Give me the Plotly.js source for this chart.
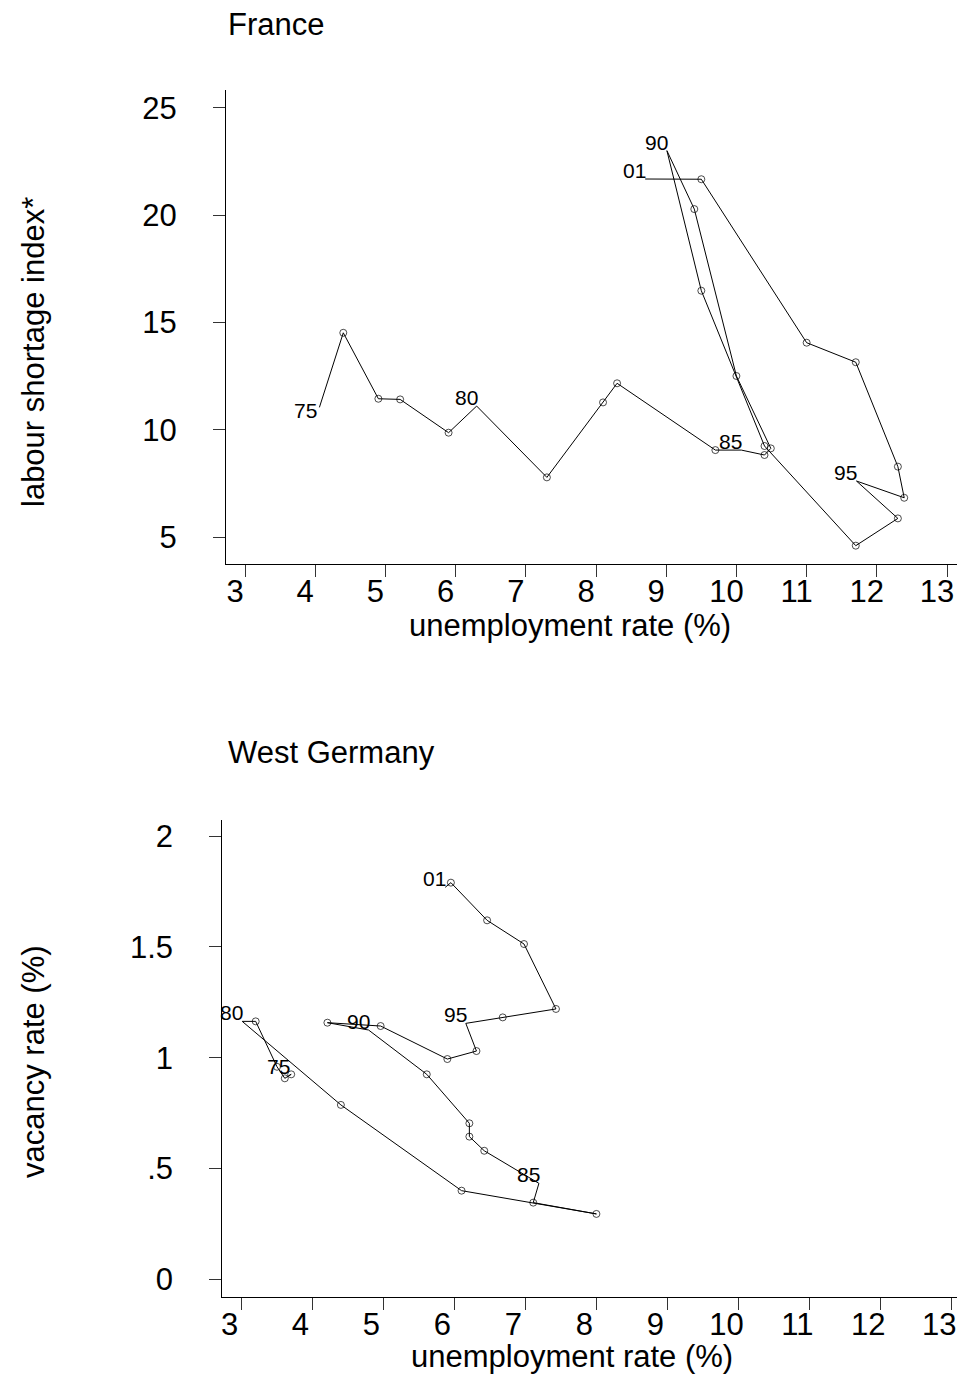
<!DOCTYPE html>
<html><head><meta charset="utf-8">
<script src="https://cdn.plot.ly/plotly-3.0.1.min.js"></script>
<style>html,body{margin:0;padding:0;background:#fff}#chart{width:957px;height:1376px}</style>
</head><body><div id="chart"></div>
<script>
// ---- France data ----
const franceYears = ["75","76","77","78","79","80","81","82","83","84","85","86","87","88","89","90","91","92","93","94","95","96","97","98","99","00","01"];
const franceUnemp = [4.06,4.40,4.90,5.21,5.90,6.30,7.30,8.10,8.30,9.70,10.07,10.40,10.49,10.00,9.40,9.01,9.50,10.40,11.70,12.30,11.71,12.39,12.30,11.70,11.00,9.50,8.70];
const franceShort = [11.05,14.52,11.45,11.42,9.87,11.11,7.79,11.28,12.17,9.06,9.06,8.83,9.14,12.51,20.28,23.00,16.48,9.25,4.61,5.88,7.62,6.84,8.29,13.15,14.06,21.67,21.68];
// ---- West Germany data ----
const germanyYears = ["75","76","77","78","79","80","81","82","83","84","85","86","87","88","89","90","91","92","93","94","95","96","97","98","99","00","01"];
const germanyUnemp = [3.67,3.70,3.61,3.50,3.20,3.01,4.40,6.10,8.00,7.11,7.19,6.42,6.21,6.21,5.61,4.79,4.21,4.96,5.90,6.31,6.16,6.68,7.43,6.98,6.46,5.95,5.87];
const germanyVac = [0.92,0.925,0.907,0.959,1.164,1.164,0.787,0.400,0.295,0.346,0.433,0.580,0.644,0.704,0.925,1.125,1.158,1.143,0.994,1.030,1.155,1.182,1.220,1.513,1.620,1.790,1.769];
const labelled = ["75","80","85","90","95","01"];
const franceTickVals = [5,10,15,20,25];
const germanyTickVals = [0,0.5,1,1.5,2];
const germanyTickText = ["0",".5","1","1.5","2"];
const xTickVals = [3,4,5,6,7,8,9,10,11,12,13];
const xTickText = ["3","4","5","6","7","8","9","10","11","12","13"];

const W = 957, H = 1376;
const FONT = "Liberation Sans, Arial, sans-serif";
const px = p => p / W;
const py = p => 1 - p / H;

function series(xs, ys, yrs, xa, ya) {
  return {
    x: xs, y: ys, xaxis: xa, yaxis: ya, type: 'scatter', mode: 'lines+markers',
    line: {color: '#000', width: 1},
    marker: {symbol: 'circle-open', color: '#000', line: {width: 1, color: '#000'},
             size: yrs.map(t => labelled.includes(t) ? 0 : 7)},
    hoverinfo: 'skip', showlegend: false, cliponaxis: false
  };
}
function labels(xs, ys, yrs, xa, ya, leftOnly) {
  const out = [];
  yrs.forEach((t, i) => {
    if (!labelled.includes(t)) return;
    const left = leftOnly.includes(t);
    out.push({x: xs[i], y: ys[i], xref: xa, yref: ya, text: t, showarrow: false,
      xanchor: 'right', yanchor: left ? 'middle' : 'bottom', xshift: left ? 0 : 3, yshift: left ? -3 : -5,
      font: {family: FONT, size: 21, color: '#000'}});
  });
  return out;
}

const axisCommon = {
  showline: true, linecolor: '#000', linewidth: 1, ticks: 'outside', ticklen: 12, tickwidth: 1,
  tickcolor: '#333', showgrid: false, zeroline: false, tickfont: {family: FONT, size: 31, color: '#000'}
};

const traces = [
  series(franceUnemp, franceShort, franceYears, 'x', 'y'),
  series(germanyUnemp, germanyVac, germanyYears, 'x2', 'y2')
];

const titleFont = {family: FONT, size: 31, color: '#000'};
const annotations = [
  ...labels(franceUnemp, franceShort, franceYears, 'x', 'y', ["75"]),
  ...labels(germanyUnemp, germanyVac, germanyYears, 'x2', 'y2', []),
  {xref: 'paper', yref: 'paper', x: px(226), y: py(24), xanchor: 'left', yanchor: 'middle', text: 'France', showarrow: false, font: titleFont},
  {xref: 'paper', yref: 'paper', x: px(226), y: py(752), xanchor: 'left', yanchor: 'middle', text: 'West Germany', showarrow: false, font: titleFont},
  {xref: 'paper', yref: 'paper', x: px(570), y: py(625), xanchor: 'center', yanchor: 'middle', text: 'unemployment rate (%)', showarrow: false, font: titleFont},
  {xref: 'paper', yref: 'paper', x: px(572), y: py(1356), xanchor: 'center', yanchor: 'middle', text: 'unemployment rate (%)', showarrow: false, font: titleFont},
  {xref: 'paper', yref: 'paper', x: px(33), y: py(352), xanchor: 'center', yanchor: 'middle', textangle: -90, text: 'labour shortage index*', showarrow: false, font: titleFont},
  {xref: 'paper', yref: 'paper', x: px(33), y: py(1062), xanchor: 'center', yanchor: 'middle', textangle: -90, text: 'vacancy rate (%)', showarrow: false, font: titleFont}
];

const xCommon = {tickvals: xTickVals, ticktext: xTickText, ticklabelstandoff: -12, ticklabeloverflow: 'allow'};
const layout = {
  width: W, height: H, margin: {l: 0, r: 0, t: 0, b: 0},
  paper_bgcolor: '#fff', plot_bgcolor: '#fff', showlegend: false,
  font: {family: FONT, color: '#000'},
  xaxis: Object.assign({}, axisCommon, xCommon, {domain: [px(226), 1], range: [2.7293, 13.142], ticklabelshift: -10, anchor: 'y'}),
  yaxis: Object.assign({}, axisCommon, {domain: [py(564), py(90)], range: [3.757, 25.824], tickvals: franceTickVals, ticklabelstandoff: 30, anchor: 'x'}),
  xaxis2: Object.assign({}, axisCommon, xCommon, {domain: [px(222.3), 1], range: [2.7294, 13.08], ticklabelshift: -12, anchor: 'y2'}),
  yaxis2: Object.assign({}, axisCommon, {domain: [py(1296.7), py(820)], range: [-0.0785, 2.0727], tickvals: germanyTickVals, ticktext: germanyTickText, ticklabelstandoff: 30, anchor: 'x2'}),
  annotations: annotations
};

Plotly.newPlot('chart', traces, layout, {displayModeBar: false, staticPlot: true});
</script>
</body></html>
